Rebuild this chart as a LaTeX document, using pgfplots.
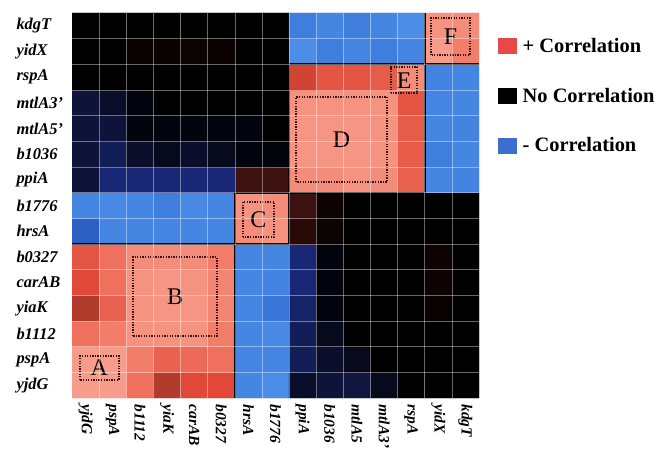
\documentclass[border=0pt]{standalone}
\usepackage{fontspec}
\setmainfont{Liberation Serif}
\usepackage{pgfplots}
\pgfplotsset{compat=1.18}
\definecolor{legred}{RGB}{232,72,72}
\definecolor{legblue}{RGB}{60,110,205}
\definecolor{boxdark}{RGB}{55,20,20}
\begin{document}
\begin{tikzpicture}
\useasboundingbox (-72bp,-52bp) rectangle (585bp,398bp);
\begin{axis}[
  at={(0,0)}, anchor=south west,
  scale only axis, width=407bp, height=385bp,
  xmin=-0.5, xmax=14.5, ymin=-0.5, ymax=14.5,
  enlargelimits=false,
  axis line style={draw=none},
  major tick length=0pt, minor tick length=0pt,
  xtick={0,...,14}, ytick={0,...,14},
  xticklabels={yjdG,pspA,b1112,yiaK,carAB,b0327,hrsA,b1776,ppiA,b1036,mtlA5,mtlA3',rspA,yidX,kdgT},
  yticklabels={yjdG,pspA,b1112,yiaK,carAB,b0327,hrsA,b1776,ppiA,b1036,mtlA5',mtlA3',rspA,yidX,kdgT},
  minor xtick={0.5,1.5,...,13.5}, minor ytick={0.5,1.5,...,13.5},
  minor grid style={white, opacity=0.4, line width=0.6pt},
  xminorgrids, yminorgrids,
  axis on top,
  tick label style={font=\fontsize{16.5}{18}\selectfont\bfseries\itshape},
  xticklabel style={rotate=-90, anchor=west, xshift=3bp, font=\fontsize{15.5}{17}\selectfont\bfseries\itshape},
  yticklabel style={anchor=west, xshift=-59bp},
  colormap={corr}{rgb255(0pt)=(95,165,245) rgb255(30pt)=(58,118,218) rgb255(50pt)=(35,75,175) rgb255(60pt)=(24,40,118) rgb255(85pt)=(10,14,42) rgb255(100pt)=(0,0,0) rgb255(115pt)=(40,10,8) rgb255(140pt)=(145,50,38) rgb255(165pt)=(225,72,56) rgb255(185pt)=(242,125,105) rgb255(200pt)=(249,170,155)},
  point meta min=-1, point meta max=1,
  legend style={at={(1.045,0.94)}, anchor=north west, draw=none, fill=none,
    font=\fontsize{20.5}{23}\selectfont\bfseries, row sep=30bp, inner sep=0pt},
  legend cell align=left,
]
\addplot[matrix plot*, mesh/cols=15, mesh/rows=15, point meta=explicit, forget plot] coordinates {
(0,0)[0.95] (1,0)[0.95] (2,0)[0.8] (3,0)[0.5] (4,0)[0.65] (5,0)[0.65] (6,0)[-0.8] (7,0)[-0.85] (8,0)[-0.15] (9,0)[-0.2] (10,0)[-0.22] (11,0)[-0.1] (12,0)[0] (13,0)[0] (14,0)[0]
(0,1)[0.95] (1,1)[0.95] (2,1)[0.85] (3,1)[0.75] (4,1)[0.78] (5,1)[0.8] (6,1)[-0.8] (7,1)[-0.8] (8,1)[-0.3] (9,1)[-0.15] (10,1)[-0.1] (11,1)[0] (12,1)[0] (13,1)[0] (14,1)[0]
(0,2)[0.8] (1,2)[0.85] (2,2)[0.92] (3,2)[0.92] (4,2)[0.92] (5,2)[0.85] (6,2)[-0.8] (7,2)[-0.82] (8,2)[-0.3] (9,2)[-0.1] (10,2)[0] (11,2)[0] (12,2)[0] (13,2)[0] (14,2)[0]
(0,3)[0.5] (1,3)[0.75] (2,3)[0.92] (3,3)[0.93] (4,3)[0.93] (5,3)[0.88] (6,3)[-0.8] (7,3)[-0.7] (8,3)[-0.35] (9,3)[-0.05] (10,3)[0] (11,3)[0] (12,3)[0] (13,3)[0.03] (14,3)[0]
(0,4)[0.65] (1,4)[0.8] (2,4)[0.92] (3,4)[0.93] (4,4)[0.92] (5,4)[0.88] (6,4)[-0.8] (7,4)[-0.78] (8,4)[-0.4] (9,4)[-0.05] (10,4)[0] (11,4)[0] (12,4)[0] (13,4)[0.05] (14,4)[0]
(0,5)[0.7] (1,5)[0.8] (2,5)[0.9] (3,5)[0.9] (4,5)[0.9] (5,5)[0.85] (6,5)[-0.8] (7,5)[-0.8] (8,5)[-0.4] (9,5)[-0.05] (10,5)[0] (11,5)[0] (12,5)[0] (13,5)[0.05] (14,5)[0]
(0,6)[-0.6] (1,6)[-0.8] (2,6)[-0.8] (3,6)[-0.8] (4,6)[-0.8] (5,6)[-0.8] (6,6)[0.9] (7,6)[0.92] (8,6)[0.15] (9,6)[0.05] (10,6)[0] (11,6)[0] (12,6)[0] (13,6)[0] (14,6)[0]
(0,7)[-0.8] (1,7)[-0.82] (2,7)[-0.8] (3,7)[-0.75] (4,7)[-0.82] (5,7)[-0.8] (6,7)[0.92] (7,7)[0.9] (8,7)[0.2] (9,7)[0.05] (10,7)[0] (11,7)[0] (12,7)[0] (13,7)[0] (14,7)[0]
(0,8)[-0.2] (1,8)[-0.4] (2,8)[-0.4] (3,8)[-0.4] (4,8)[-0.4] (5,8)[-0.4] (6,8)[0.2] (7,8)[0.2] (8,8)[0.9] (9,8)[0.9] (10,8)[0.92] (11,8)[0.9] (12,8)[0.75] (13,8)[-0.8] (14,8)[-0.78]
(0,9)[-0.2] (1,9)[-0.3] (2,9)[-0.15] (3,9)[-0.1] (4,9)[-0.15] (5,9)[-0.1] (6,9)[-0.05] (7,9)[-0.05] (8,9)[0.93] (9,9)[0.93] (10,9)[0.93] (11,9)[0.92] (12,9)[0.72] (13,9)[-0.75] (14,9)[-0.8]
(0,10)[-0.2] (1,10)[-0.2] (2,10)[-0.05] (3,10)[-0.05] (4,10)[-0.05] (5,10)[-0.05] (6,10)[-0.05] (7,10)[0] (8,10)[0.93] (9,10)[0.93] (10,10)[0.93] (11,10)[0.92] (12,10)[0.72] (13,10)[-0.8] (14,10)[-0.78]
(0,11)[-0.2] (1,11)[-0.15] (2,11)[-0.05] (3,11)[0] (4,11)[0] (5,11)[0] (6,11)[0] (7,11)[0] (8,11)[0.92] (9,11)[0.92] (10,11)[0.92] (11,11)[0.92] (12,11)[0.7] (13,11)[-0.8] (14,11)[-0.8]
(0,12)[0] (1,12)[0] (2,12)[0] (3,12)[0] (4,12)[0] (5,12)[0] (6,12)[0] (7,12)[0] (8,12)[0.6] (9,12)[0.7] (10,12)[0.7] (11,12)[0.72] (12,12)[0.9] (13,12)[-0.78] (14,12)[-0.8]
(0,13)[0] (1,13)[0] (2,13)[0.04] (3,13)[0.04] (4,13)[0.05] (5,13)[0.04] (6,13)[0] (7,13)[0] (8,13)[-0.85] (9,13)[-0.75] (10,13)[-0.8] (11,13)[-0.75] (12,13)[-0.8] (13,13)[0.95] (14,13)[0.85]
(0,14)[0] (1,14)[0] (2,14)[0] (3,14)[0] (4,14)[0] (5,14)[0] (6,14)[0] (7,14)[0] (8,14)[-0.75] (9,14)[-0.8] (10,14)[-0.75] (11,14)[-0.8] (12,14)[-0.85] (13,14)[0.92] (14,14)[0.9]
};
% block separators
\draw[black, line width=2.2pt] (axis cs:-0.5,5.5) -- (axis cs:5.5,5.5) -- (axis cs:5.5,-0.5);
\draw[black, line width=2.2pt] (axis cs:5.5,5.5) rectangle (axis cs:7.5,7.5);
\draw[black, line width=2.2pt] (axis cs:7.5,7.5) rectangle (axis cs:12.5,12.5);
\draw[black, line width=2.2pt] (axis cs:12.5,12.5) -- (axis cs:12.5,14.5);
\draw[black, line width=2.2pt] (axis cs:12.5,12.5) -- (axis cs:14.5,12.5);
% dotted group boxes
\tikzset{grp/.style={boxdark, line width=1.5pt, dash pattern=on 1.3pt off 1.3pt}}
\draw[grp] (axis cs:-0.2,0.2) rectangle (axis cs:1.23,1.14);
\draw[grp] (axis cs:1.75,1.92) rectangle (axis cs:4.84,4.99);
\draw[grp] (axis cs:5.8,5.77) rectangle (axis cs:6.95,7.14);
\draw[grp] (axis cs:7.76,7.91) rectangle (axis cs:11.11,11.23);
\draw[grp] (axis cs:11.26,11.38) rectangle (axis cs:12.22,12.39);
\draw[grp] (axis cs:12.73,12.86) rectangle (axis cs:14.17,14.3);
\tikzset{lab/.style={font=\fontsize{24}{24}\selectfont, text=black}}
\node[lab] at (axis cs:0.5,0.67) {A};
\node[lab] at (axis cs:3.3,3.45) {B};
\node[lab] at (axis cs:6.37,6.45) {C};
\node[lab] at (axis cs:9.43,9.57) {D};
\node[lab] at (axis cs:11.74,11.88) {E};
\node[lab] at (axis cs:13.45,13.58) {F};
\addlegendimage{legend image code/.code={\fill[legred] (0bp,-7.5bp) rectangle (18bp,7.5bp); \path[draw=none,fill=none] (0bp,0bp) rectangle (23bp,0.1bp);}}
\addlegendentry{+ Correlation}
\addlegendimage{legend image code/.code={\fill[black] (0bp,-7.5bp) rectangle (18bp,7.5bp); \path[draw=none,fill=none] (0bp,0bp) rectangle (23bp,0.1bp);}}
\addlegendentry{No Correlation}
\addlegendimage{legend image code/.code={\fill[legblue] (0bp,-7.5bp) rectangle (18bp,7.5bp); \path[draw=none,fill=none] (0bp,0bp) rectangle (23bp,0.1bp);}}
\addlegendentry{- Correlation}
\end{axis}
\end{tikzpicture}
\end{document}
